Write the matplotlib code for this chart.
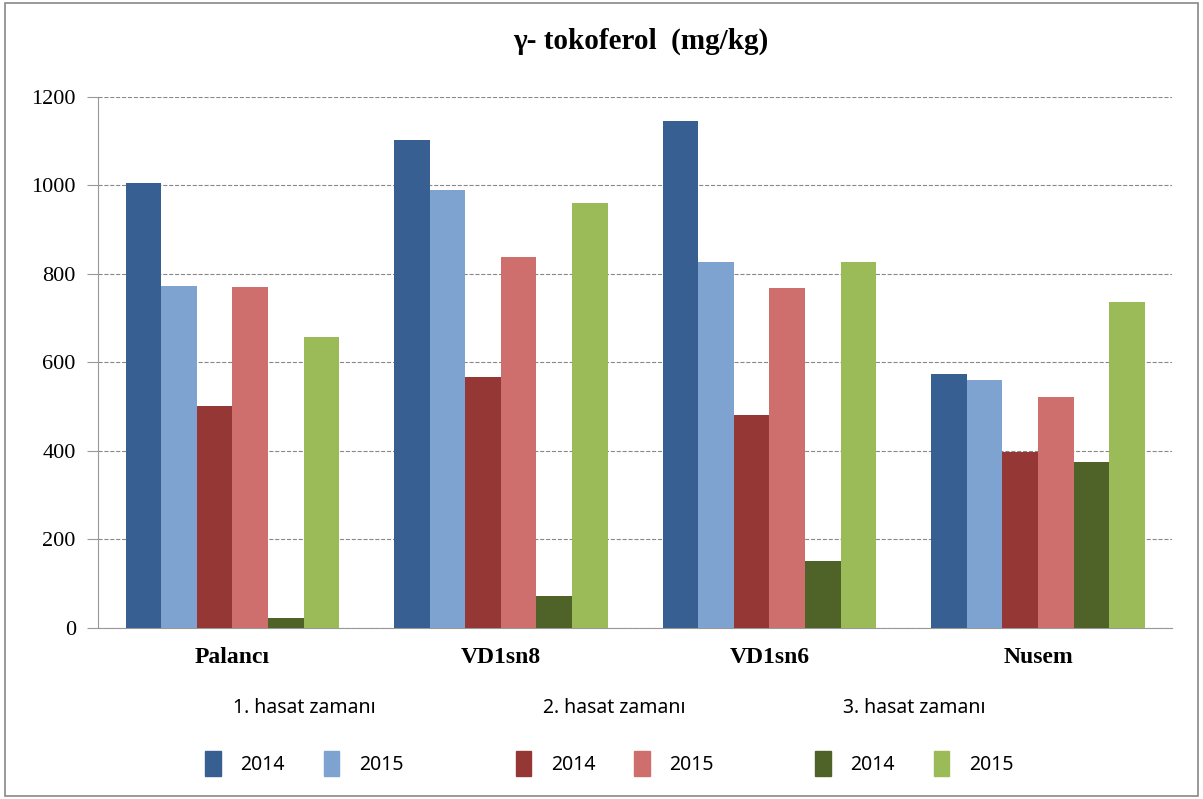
import matplotlib.pyplot as plt
import matplotlib.patches as mpatches
import numpy as np

plt.rcParams['font.family'] = ['Liberation Serif', 'DejaVu Serif']

# gamma-tocopherol values per genotype, harvest time and year
genotypes = ['Palancı', 'VD1sn8', 'VD1sn6', 'Nusem']
h1_2014 = [1004, 1102, 1145, 573]
h1_2015 = [773, 990, 826, 560]
h2_2014 = [502, 568, 482, 397]
h2_2015 = [770, 838, 768, 522]
h3_2014 = [22, 72, 152, 374]
h3_2015 = [657, 960, 826, 737]

series = [h1_2014, h1_2015, h2_2014, h2_2015, h3_2014, h3_2015]
colors = ['#385f91', '#7ea3d0', '#953735', '#cf6f6d', '#4f6228', '#9bbb59']
harvest_titles = ['1. hasat zamanı', '2. hasat zamanı', '3. hasat zamanı']
years = ['2014', '2015']

fig = plt.figure(figsize=(12.03, 7.99), dpi=100)
ax = fig.add_axes([0.0815, 0.214, 0.893, 0.665])

x = np.arange(len(genotypes))
bw = 0.795 / 6
for i, vals in enumerate(series):
    ax.bar(x - 0.3975 + bw * (i + 0.5), vals, width=bw, color=colors[i], zorder=3)

ax.set_xlim(-0.5, len(genotypes) - 0.5)
ax.set_ylim(0, 1200)
ax.set_yticks(range(0, 1201, 200))
ax.set_xticks(x)
ax.set_xticklabels(genotypes, fontsize=17, fontweight='bold')
ax.tick_params(axis='x', length=0, pad=14)
ax.tick_params(axis='y', length=8, color='#999999', labelsize=16, pad=8)
ax.grid(axis='y', linestyle='--', color='#888888', linewidth=0.8, zorder=0)
for s in ['top', 'right']:
    ax.spines[s].set_visible(False)
ax.spines['left'].set_color('#999999')
ax.spines['bottom'].set_color('#999999')

fig.text(0.533, 0.948, 'γ- tokoferol  (mg/kg)', ha='center', va='center',
         fontsize=21, fontweight='bold')

# three grouped legends, one per harvest time
centers = [0.253, 0.511, 0.76]
for k in range(3):
    handles = [mpatches.Patch(color=colors[2 * k + j], label=years[j]) for j in range(2)]
    leg = fig.legend(handles=handles, ncol=2, loc='center', bbox_to_anchor=(centers[k], 0.078),
                     frameon=False, prop={'family': 'Noto Sans', 'size': 14},
                     title=harvest_titles[k], title_fontproperties={'family': 'Noto Sans', 'size': 14},
                     handlelength=0.8, handleheight=1.6, columnspacing=2.0, handletextpad=1.0)
    leg._legend_box.sep = 24

fig.patches.append(mpatches.Rectangle((0.004, 0.004), 0.992, 0.992, transform=fig.transFigure,
                                      fill=False, edgecolor='#888888', linewidth=1.2))

fig.savefig('out.png', dpi=100)
